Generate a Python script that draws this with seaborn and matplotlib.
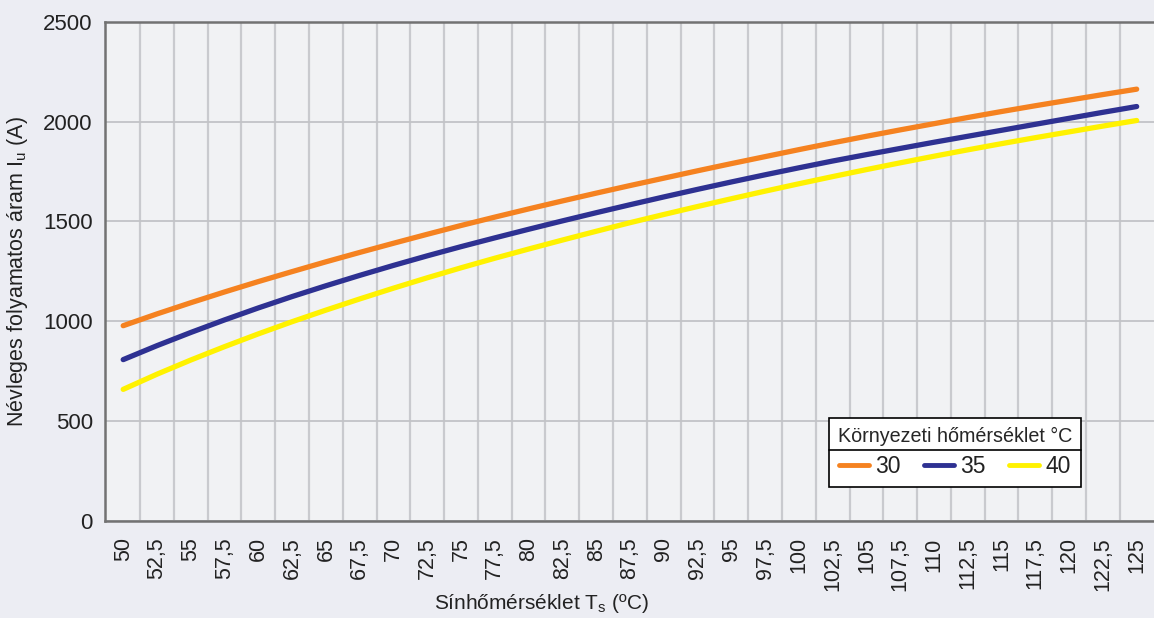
import pandas as pd
import matplotlib
matplotlib.use("Agg")
import matplotlib.pyplot as plt
import seaborn as sns

# ------------------------------------------------------------
# data
# ------------------------------------------------------------
temps = [50, 52.5, 55, 57.5, 60, 62.5, 65, 67.5, 70, 72.5, 75, 77.5, 80, 82.5, 85,
         87.5, 90, 92.5, 95, 97.5, 100, 102.5, 105, 107.5, 110, 112.5, 115, 117.5,
         120, 122.5, 125]
tick_labels = [f"{t:g}".replace(".", ",") for t in temps]

i_30 = [977, 1036, 1092, 1146, 1198, 1248, 1297, 1344, 1390, 1435, 1479,
        1521, 1562, 1602, 1641, 1679, 1716, 1753, 1789, 1824, 1859,
        1893, 1926, 1958, 1989, 2020, 2050, 2079, 2107, 2135, 2162]
i_35 = [807, 877, 943, 1006, 1066, 1123, 1177, 1229, 1279, 1327, 1373,
        1417, 1460, 1502, 1543, 1583, 1622, 1660, 1697, 1733, 1768,
        1802, 1834, 1865, 1896, 1926, 1956, 1986, 2016, 2046, 2075]
i_40 = [658, 734, 805, 872, 936, 997, 1055, 1111, 1165, 1217, 1267,
        1315, 1361, 1406, 1450, 1493, 1534, 1574, 1613, 1651, 1688,
        1724, 1759, 1793, 1826, 1858, 1889, 1919, 1948, 1977, 2005]

ambient = ["30", "35", "40"]
colors = ["#F58220", "#2E3192", "#FFF200"]

rows = []
for amb, vals in zip(ambient, [i_30, i_35, i_40]):
    for k, v in enumerate(vals):
        rows.append({"pos": k, "I": v, "amb": amb})
df = pd.DataFrame(rows)

# ------------------------------------------------------------
# plot
# ------------------------------------------------------------
sns.set_theme(style="white")
plt.rcParams["font.family"] = ["Liberation Sans", "DejaVu Sans"]

W, H = 1154, 618
fig = plt.figure(figsize=(W / 100, H / 100), dpi=100, facecolor="#ECEDF3")
left, right, top, bottom = 105.3, 1159.3, 21.7, 520.7
ax = fig.add_axes([left / W, 1 - bottom / H, (right - left) / W, (bottom - top) / H])
ax.set_facecolor("#F1F2F4")

sns.lineplot(data=df, x="pos", y="I", hue="amb", palette=colors,
             linewidth=3.8, ax=ax, legend=True)

ax.set_xlim(-0.53, 30.67)
ax.set_ylim(0, 2500)
ax.set_yticks([0, 500, 1000, 1500, 2000, 2500])
ax.set_xticks(range(len(temps)))
ax.set_xticklabels(tick_labels, rotation=90, va="top")
ax.set_xticks([k + 0.5 for k in range(len(temps) - 1)], minor=True)
ax.tick_params(axis="both", which="both", length=0, colors="#222222")
ax.tick_params(axis="x", labelsize=15.5, pad=12)
ax.tick_params(axis="y", labelsize=16, pad=9)

ax.grid(False)
ax.grid(True, axis="y", which="major", color="#C2C3C7", linewidth=1.3)
ax.grid(True, axis="x", which="minor", color="#C9CACE", linewidth=1.6)
for s in ["left", "bottom", "top"]:
    ax.spines[s].set_color("#727272")
    ax.spines[s].set_linewidth(1.8)
ax.spines["right"].set_visible(False)

ax.set_ylabel(r"Névleges folyamatos áram I$_\mathregular{u}$ (A)", fontsize=15.5,
              color="#222222", va="center")
ax.yaxis.set_label_coords(-0.083, 0.5)
ax.set_xlabel(r"Sínhőmérséklet T$_\mathregular{s}$ (ºC)", fontsize=15,
              color="#222222", va="center")
ax.xaxis.set_label_coords(0.414, -0.165)

leg = ax.legend(title="Környezeti hőmérséklet °C", ncol=3, loc="upper left",
                bbox_to_anchor=(0.6866, 0.2058), borderaxespad=0, frameon=True,
                fancybox=False, edgecolor="black", framealpha=1, fontsize=16.5,
                title_fontsize=14.2, handlelength=1.3, columnspacing=1.0,
                handletextpad=0.3, borderpad=0.38, labelspacing=0.4)
leg.get_frame().set_linewidth(1.2)
for t in leg.get_texts():
    t.set_color("#222222")
for line in leg.get_lines():
    line.set_linewidth(3.5)

# separator line between legend title and entries
fig.canvas.draw()
r = fig.canvas.get_renderer()
fb = leg.get_frame().get_window_extent(r)
tb = leg.get_title().get_window_extent(r)
ysep = tb.y0 - 4
fig.add_artist(plt.Line2D([fb.x0 / W, fb.x1 / W], [ysep / H, ysep / H],
                          color="black", linewidth=1.2))

plt.savefig("out.png", dpi=100, facecolor=fig.get_facecolor())
plt.close()
